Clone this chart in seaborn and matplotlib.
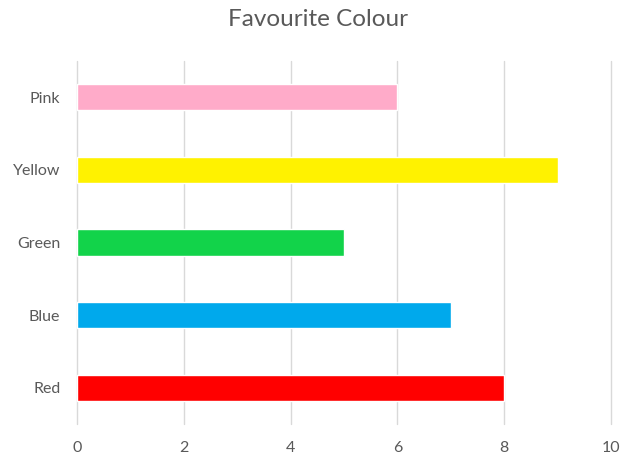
import matplotlib
matplotlib.use("Agg")
import matplotlib.pyplot as plt
import seaborn as sns
import pandas as pd

categories = ["Pink", "Yellow", "Green", "Blue", "Red"]
values = [6, 9, 5, 7, 8]
bar_colors = ["#FFABC9", "#FFF200", "#12D34A", "#00A9EC", "#FF0000"]
x_ticks = [0, 2, 4, 6, 8, 10]

sns.set_theme(style="white")
plt.rcParams['font.family'] = ['Lato', 'DejaVu Sans']

df = pd.DataFrame({"category": categories, "value": values})

fig = plt.figure(figsize=(6.3, 4.75), dpi=100)
ax = fig.add_axes([77/630, 1-424/475, (611-77)/630, (424-61)/475])

sns.barplot(data=df, y="category", x="value", hue="category",
            palette=bar_colors, order=categories, hue_order=categories,
            width=0.36, legend=False, ax=ax, saturation=1)

ax.set_xlim(0, 10)
ax.set_xticks(x_ticks)
ax.grid(axis="x", color="#D9D9D9", linewidth=1)
for gl in ax.get_xgridlines():
    gl.set_clip_on(False)
ax.set_axisbelow(True)
for s in ["top", "right", "bottom", "left"]:
    ax.spines[s].set_visible(False)
ax.set_xlabel("")
ax.set_ylabel("")
ax.tick_params(axis="y", length=0, labelsize=11.5, labelcolor="#595959", pad=12)
ax.tick_params(axis="x", length=0, labelsize=11.5, labelcolor="#595959", pad=12)
fig.suptitle("Favourite Colour", x=0.505, y=0.98, fontsize=17.5, color="#595959")

fig.savefig("out.png", dpi=100)
